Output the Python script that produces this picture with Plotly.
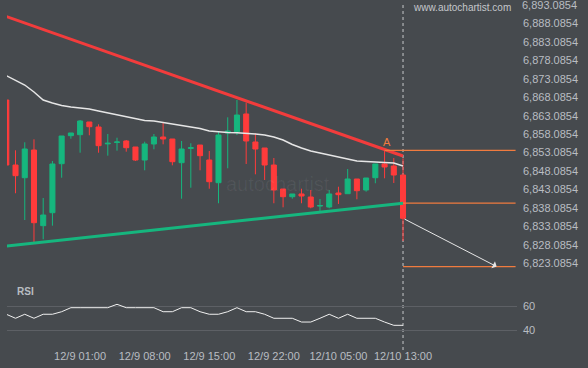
import plotly.graph_objects as go

# ---------------- data ----------------
times = [
    "12/8 17:00", "12/8 18:00", "12/8 19:00", "12/8 20:00", "12/8 21:00", "12/8 22:00", "12/8 23:00",
    "12/9 00:00", "12/9 01:00", "12/9 02:00", "12/9 03:00", "12/9 04:00", "12/9 05:00", "12/9 06:00",
    "12/9 07:00", "12/9 08:00", "12/9 09:00", "12/9 10:00", "12/9 11:00", "12/9 12:00", "12/9 13:00",
    "12/9 14:00", "12/9 15:00", "12/9 16:00", "12/9 17:00", "12/9 18:00", "12/9 19:00", "12/9 20:00",
    "12/9 21:00", "12/9 22:00", "12/9 23:00", "12/10 00:00", "12/10 01:00", "12/10 02:00",
    "12/10 03:00", "12/10 04:00", "12/10 05:00", "12/10 07:00", "12/10 08:00", "12/10 09:00",
    "12/10 10:00", "12/10 11:00", "12/10 12:00", "12/10 13:00",
]
opens = [6867.34, 6849.72, 6846.28, 6853.79, 6833.28, 6836.80, 6850.08, 6857.67, 6857.94, 6861.38,
         6860.02, 6855.45, 6855.85, 6856.23, 6854.60, 6851.08, 6855.42, 6857.31, 6856.77, 6850.35,
         6854.23, 6855.14, 6851.08, 6844.93, 6858.40, 6858.75, 6863.55, 6855.96, 6854.33, 6849.72,
         6843.22, 6841.13, 6841.87, 6841.05, 6838.60, 6838.34, 6842.14, 6841.95, 6845.93, 6842.95,
         6846.28, 6850.00, 6849.45, 6847.01]
highs = [6867.34, 6853.71, 6855.88, 6856.69, 6840.78, 6850.81, 6857.58, 6858.40, 6861.92, 6861.38,
         6860.75, 6858.13, 6857.12, 6856.50, 6854.60, 6856.04, 6858.13, 6861.19, 6856.77, 6856.23,
         6855.61, 6855.14, 6853.52, 6858.67, 6862.65, 6867.34, 6866.61, 6858.32, 6854.33, 6851.62,
         6843.22, 6841.87, 6843.30, 6842.95, 6840.51, 6842.95, 6843.84, 6848.64, 6845.93, 6846.20,
         6850.00, 6853.71, 6851.62, 6851.50]
lows = [6849.72, 6842.06, 6834.82, 6828.67, 6829.59, 6833.28, 6846.28, 6856.85, 6853.06, 6857.77,
        6853.06, 6852.25, 6853.60, 6853.33, 6850.81, 6848.29, 6853.98, 6855.33, 6849.64, 6840.59,
        6843.57, 6848.29, 6843.30, 6839.35, 6848.83, 6857.85, 6850.00, 6847.20, 6845.66, 6839.35,
        6838.26, 6840.59, 6839.35, 6837.99, 6837.07, 6837.99, 6839.16, 6841.95, 6840.43, 6842.49,
        6844.77, 6846.12, 6844.85, 6829.13]
closes = [6849.72, 6846.83, 6854.06, 6834.09, 6836.17, 6850.00, 6857.58, 6858.40, 6861.65, 6860.10,
          6854.96, 6855.61, 6855.96, 6854.41, 6851.08, 6855.42, 6857.31, 6856.77, 6850.62, 6854.06,
          6854.40, 6852.25, 6845.20, 6857.85, 6858.94, 6863.27, 6856.23, 6854.06, 6849.72, 6842.95,
          6841.13, 6841.87, 6841.32, 6838.34, 6838.75, 6841.87, 6841.68, 6845.93, 6842.76, 6846.20,
          6850.00, 6849.18, 6847.01, 6835.28]
moving_avg = [6873.93, 6872.76, 6871.40, 6869.51, 6867.34, 6866.53, 6865.85, 6865.44, 6865.17, 6864.90,
              6864.36, 6863.82, 6863.46, 6862.87, 6862.19, 6861.78, 6861.65, 6861.24, 6860.97, 6860.56,
              6860.02, 6859.62, 6858.94, 6858.67, 6858.53, 6858.48, 6858.40, 6858.13, 6857.85, 6857.31,
              6856.50, 6855.28, 6854.33, 6853.52, 6852.98, 6852.43, 6851.89, 6851.22, 6850.81, 6850.67,
              6850.54, 6850.54, 6850.27, 6849.45]
rsi = [53.2, 49.9, 53.2, 49.9, 53.2, 53.2, 55.3, 58.6, 58.6, 58.6,
       58.6, 58.6, 61.4, 58.6, 58.6, 58.6, 58.6, 55.3, 55.3, 58.6,
       58.6, 55.3, 53.2, 53.2, 55.3, 58.6, 55.3, 55.3, 53.2, 49.9,
       49.9, 49.9, 46.8, 46.8, 49.9, 53.2, 49.9, 53.2, 49.9, 49.9,
       49.9, 46.8, 44.1, 44.1]

resistance_trend = [6889.97, 6852.16]   # first / last candle
support_trend = [6827.77, 6839.35]      # first / last candle
level_a = 6853.7
level_break = 6839.4
forecast_level = 6822.2

x_tick_labels = ["12/9 01:00", "12/9 08:00", "12/9 15:00", "12/9 22:00", "12/10 05:00", "12/10 13:00"]
price_tick_values = [6823.0854, 6828.0854, 6833.0854, 6838.0854, 6843.0854, 6848.0854, 6853.0854,
                     6858.0854, 6863.0854, 6868.0854, 6873.0854, 6878.0854, 6883.0854, 6888.0854,
                     6893.0854]
price_tick_labels = ["6,823.0854", "6,828.0854", "6,833.0854", "6,838.0854", "6,843.0854",
                     "6,848.0854", "6,853.0854", "6,858.0854", "6,863.0854", "6,868.0854",
                     "6,873.0854", "6,878.0854", "6,883.0854", "6,888.0854", "6,893.0854"]
rsi_tick_values = [40, 60]

# ---------------- styling / layout ----------------
W, H = 588, 368
BG = "#464a4e"
GREEN = "#16b67e"
RED = "#ff3b3b"
ORANGE = "#f07b3f"
TXT = "#b9bdc2"
FONT = "Liberation Sans, Arial, sans-serif"

xs = list(range(len(times)))
last = xs[-1]
start_a = 41
level_end = 55.2
forecast_end = 53.15

def py(px):
    return 1 - px / H

fig = go.Figure()

fig.add_trace(go.Candlestick(
    x=xs, open=opens, high=highs, low=lows, close=closes,
    increasing=dict(line=dict(color=GREEN, width=1), fillcolor=GREEN),
    decreasing=dict(line=dict(color=RED, width=1), fillcolor=RED),
    whiskerwidth=0, hoverinfo="skip", xaxis="x", yaxis="y", showlegend=False,
))
fig.add_trace(go.Scatter(x=xs, y=moving_avg, mode="lines",
                         line=dict(color="#e6e6e6", width=1.5), hoverinfo="skip",
                         xaxis="x", yaxis="y", showlegend=False))
fig.add_trace(go.Scatter(x=[0, last], y=resistance_trend, mode="lines",
                         line=dict(color="#f23c3c", width=3), hoverinfo="skip",
                         xaxis="x", yaxis="y", showlegend=False))
fig.add_trace(go.Scatter(x=[0, last], y=support_trend, mode="lines",
                         line=dict(color=GREEN, width=3), hoverinfo="skip",
                         xaxis="x", yaxis="y", showlegend=False))
fig.add_trace(go.Scatter(x=xs, y=rsi, mode="lines",
                         line=dict(color="#f0f0f0", width=1), hoverinfo="skip",
                         xaxis="x2", yaxis="y2", showlegend=False))

shapes = [
    dict(type="line", xref="x", yref="y", x0=start_a, x1=level_end, y0=level_a, y1=level_a,
         line=dict(color=ORANGE, width=1.3)),
    dict(type="line", xref="x", yref="y", x0=last, x1=level_end, y0=level_break, y1=level_break,
         line=dict(color=ORANGE, width=1.3)),
    dict(type="line", xref="x", yref="y", x0=last, x1=level_end, y0=forecast_level, y1=forecast_level,
         line=dict(color=ORANGE, width=1.3)),
    dict(type="line", xref="x", yref="paper", x0=last, x1=last, y0=py(350), y1=py(3),
         layer="below", line=dict(color="#c8cacc", width=1, dash="3px,3px")),
]

annotations = [
    dict(x=forecast_end, y=forecast_level, xref="x", yref="y",
         ax=last, ay=closes[-1], axref="x", ayref="y",
         showarrow=True, arrowhead=1, arrowsize=1.3, arrowwidth=1, arrowcolor="#e6e6e6", text=""),
    dict(x=start_a + 0.3, y=level_a, xref="x", yref="y", text="A", showarrow=False,
         yanchor="bottom", yshift=0, font=dict(family=FONT, size=11, color=ORANGE)),
    dict(x=15 / W, y=py(291), xref="paper", yref="paper", text="<b>RSI</b>", showarrow=False,
         xanchor="left", yanchor="middle", font=dict(family=FONT, size=10, color=TXT)),
    dict(x=462 / W, y=py(7), xref="paper", yref="paper", text="www.autochartist.com", showarrow=False,
         xanchor="center", yanchor="middle", font=dict(family=FONT, size=10, color="#c4c7cb")),
    dict(x=278 / W, y=py(184), xref="paper", yref="paper", text="autochartist", showarrow=False,
         xanchor="center", yanchor="middle",
         font=dict(family=FONT, size=20, color="rgba(255,255,255,0.06)")),
    # top price label (kept as text at its axis value; plotly culls it at the paper edge)
    dict(x=517 / W, y=price_tick_values[-1], xref="paper", yref="y", text=price_tick_labels[-1],
         showarrow=False, xanchor="left", yanchor="middle", xshift=3,
         font=dict(family=FONT, size=11, color=TXT)),
]

tick_pos = [times.index(t) for t in x_tick_labels]
xrange = [(7 - 6.3) / 9.226, (517 - 6.3) / 9.226]
xdom = [7 / W, 517 / W]

fig.update_layout(
    width=W, height=H,
    margin=dict(l=0, r=0, t=0, b=0),
    paper_bgcolor=BG, plot_bgcolor=BG,
    boxgap=0.22,
    showlegend=False,
    shapes=shapes, annotations=annotations,
    xaxis=dict(domain=xdom, range=xrange, anchor="y", showgrid=False, zeroline=False,
               showticklabels=False, rangeslider=dict(visible=False), fixedrange=True),
    yaxis=dict(domain=[py(278), 1], range=[6894.44 - 278 / 3.69, 6894.44], side="right",
               anchor="x", showgrid=False, zeroline=False,
               tickvals=price_tick_values[:-1], ticktext=price_tick_labels[:-1],
               tickfont=dict(family=FONT, size=11, color=TXT), ticks="", ticklabelstandoff=5),
    xaxis2=dict(domain=xdom, range=xrange, anchor="y2", showgrid=False, zeroline=False,
                tickvals=tick_pos, ticktext=x_tick_labels, ticks="", ticklabelstandoff=3,
                tickfont=dict(family=FONT, size=11, color=TXT)),
    yaxis2=dict(domain=[py(345), py(280)], range=[40 - (345 - 330.3) / 1.215, 60 + 26 / 1.215],
                side="right", anchor="x2", showgrid=True, gridcolor="#5d6065", gridwidth=1,
                zeroline=False, tickvals=rsi_tick_values, ticks="",
                tickfont=dict(family=FONT, size=11, color=TXT), ticklabelstandoff=5),
)

fig.write_html("out.html", config={"displayModeBar": False, "staticPlot": True},
               post_script="document.body.style.margin='0px';document.body.style.background='" + BG + "';")
